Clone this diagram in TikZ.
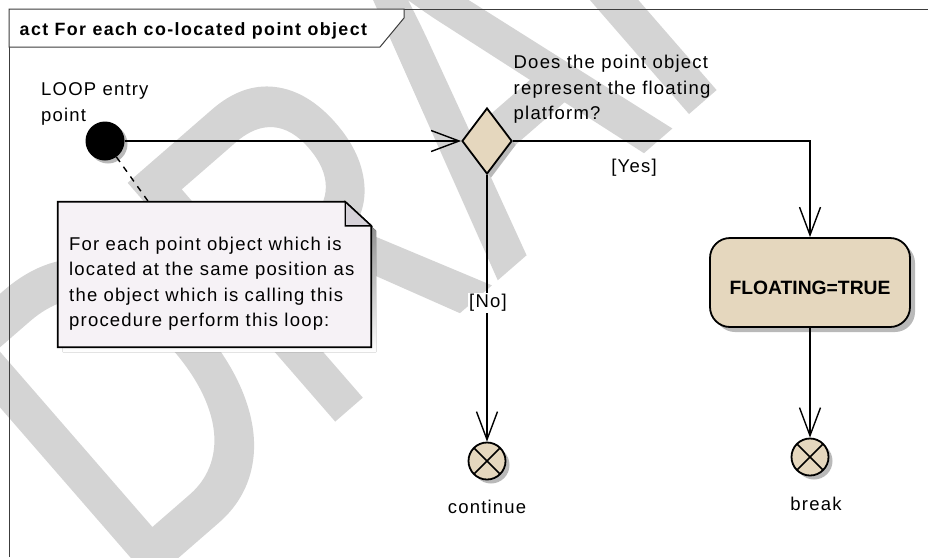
\documentclass[tikz,border=0pt]{standalone}
\usepackage{fontspec}
\setmainfont{Liberation Sans}
\newfontfamily\lsans[LetterSpace=6.5]{Liberation Sans}
\newfontfamily\hdrfam[LetterSpace=8]{Liberation Sans}
\newfontfamily\actfam{Liberation Sans}
\newfontfamily\wmfam[FakeBold=1.5]{Liberation Sans}
\usetikzlibrary{shapes.geometric,arrows.meta,shadows}
\definecolor{tanfill}{RGB}{229,215,190}
\definecolor{notefill}{RGB}{246,242,246}
\definecolor{notefold}{RGB}{214,210,217}
\definecolor{shade}{RGB}{185,185,185}
\definecolor{wmgray}{RGB}{212,212,212}
\definecolor{framec}{RGB}{60,60,60}
\newcommand{\txtfont}{\lsans\fontsize{18.5}{25.5}\selectfont}
\newcommand{\hdrfont}{\hdrfam\bfseries\fontsize{17.8}{20}\selectfont}
\newcommand{\actfont}{\actfam\bfseries\fontsize{19.3}{22}\selectfont}
\newcommand{\wmfont}{\wmfam\fontsize{450}{450}\selectfont}
\tikzset{
  txt/.style={font=\txtfont, inner sep=0pt, align=left},
  shad/.style={drop shadow={shadow xshift=#1, shadow yshift=-#1, fill=shade, opacity=1}},
  flow/.style={line width=1.4pt, -{Straight Barb[length=28pt,width=21pt]}},
  initnode/.style={circle, fill=black, minimum size=39pt, inner sep=0pt, shad=3pt},
  decnode/.style={diamond, draw, line width=1.8pt, fill=tanfill, minimum width=50pt, minimum height=66pt, inner sep=0pt, shad=4pt},
  actnode/.style={rectangle, rounded corners=20pt, draw, line width=1.8pt, fill=tanfill, minimum width=200pt, minimum height=89pt, inner sep=0pt, shad=5pt},
  finalnode/.style={circle, draw, line width=1.8pt, fill=tanfill, minimum size=37pt, inner sep=0pt, shad=4pt,
    path picture={\draw[line width=1.6pt] (path picture bounding box.north west) -- (path picture bounding box.south east)
      (path picture bounding box.north east) -- (path picture bounding box.south west);}},
  notelink/.style={line width=1.4pt, dash pattern=on 6pt off 6pt},
}
\begin{document}
\begin{tikzpicture}[x=1pt,y=-1pt]
\useasboundingbox (0,0) rectangle (928,557);
\clip (0,0) rectangle (928,557);
\fill[white] (0,0) rectangle (928,557);
% watermark
\node[anchor=base west, rotate=41, xscale=0.75, inner sep=0pt, text=wmgray, font=\wmfont] (wm) at (130,595.5) {DRAFT};
% frame
\draw[framec, line width=1pt] (9,557) -- (9,9) -- (928,9);
\draw[framec, line width=1pt, fill=white] (9,9) -- (404,9) -- (404,18) -- (380,47) -- (9,47) -- cycle;
\node[anchor=base west, inner sep=0pt, font=\hdrfont] (title) at (19.5,35) {act For each co-located point object};
% note
\node[minimum width=313pt, minimum height=145pt, inner sep=0pt] (note) at (214.5,274.5) {};
\fill[shade] ([xshift=5pt,yshift=-5pt]note.north west) -- ([xshift=-21pt,yshift=-5pt]note.north east) -- ([xshift=5pt,yshift=-29pt]note.north east) -- ([xshift=5pt,yshift=-5pt]note.south east) -- ([xshift=5pt,yshift=-5pt]note.south west) -- cycle;
\draw[line width=1.8pt, fill=notefill] (note.north west) -- ([xshift=-26pt]note.north east) -- ([yshift=-24pt]note.north east) -- (note.south east) -- (note.south west) -- cycle;
\draw[line width=1.4pt, fill=notefold] ([xshift=-26pt]note.north east) -- ([xshift=-26pt,yshift=-24pt]note.north east) -- ([yshift=-24pt]note.north east) -- cycle;
\node[txt, anchor=north west] (notetext) at (69,236.5) {For each point object which is\\located at the same position as\\the object which is calling this\\procedure perform this loop:};
% nodes
\node[initnode] (init) at (105,141) {};
\node[txt, anchor=north west] (initlabel) at (41,82.7) {LOOP entry\\point};
\node[decnode] (dec) at (487,141) {};
\node[txt, anchor=north west] (declabel) at (513.5,55) {Does the point object\\represent the floating\\platform?};
\node[actnode] (act) at (810,282.5) {};
\node[font=\actfont, inner sep=0pt] (acttext) at (810,288) {FLOATING=TRUE};
\node[finalnode] (cont) at (487,461) {};
\node[txt] (contlabel) at (487,507) {continue};
\node[finalnode] (brk) at (810,457) {};
\node[txt] (brklabel) at (816,504) {break};
% connectors
\draw[notelink] (init) -- ([xshift=-66pt]note.north);
\draw[flow] (init) -- (dec);
\draw[flow] (dec.east) -| (act.north);
\draw[flow] (dec.south) -- (cont.north);
\draw[flow] (act.south) -- (brk.north);
\node[txt] (yes) at (634,168) {[Yes]};
\node[txt, fill=white, inner sep=1pt] (no) at (488,303) {[No]};
\end{tikzpicture}
\end{document}
